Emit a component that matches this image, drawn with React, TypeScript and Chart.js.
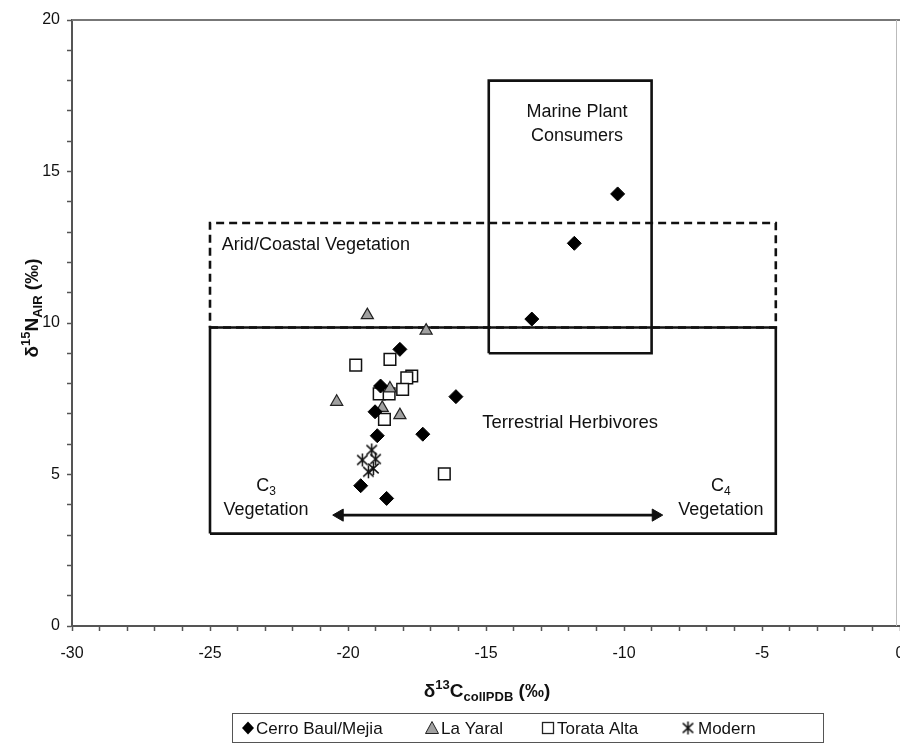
import React, { useEffect, useRef } from 'react';
import { Chart, registerables } from 'chart.js';

Chart.register(...registerables);

// ---- Data (δ13C, δ15N) ----
const cerroBaulX = [-18.12, -18.82, -16.09, -19.02, -18.94, -17.29, -19.54, -18.6, -10.23, -11.8, -13.34];
const cerroBaulY = [9.13, 7.92, 7.57, 7.07, 6.28, 6.33, 4.63, 4.21, 14.26, 12.63, 10.13];

const laYaralX = [-19.3, -17.17, -20.41, -18.48, -18.76, -18.12];
const laYaralY = [10.26, 9.75, 7.4, 7.84, 7.2, 6.96];

const torataX = [-19.72, -18.48, -17.69, -17.87, -18.02, -18.87, -18.51, -18.68, -16.51];
const torataY = [8.61, 8.8, 8.25, 8.19, 7.81, 7.66, 7.66, 6.82, 5.02];

const modernX = [-19.14, -19.48, -19.0, -19.08, -19.26];
const modernY = [5.81, 5.48, 5.51, 5.2, 5.09];

// ---- Reference boxes (data units) ----
const terrestrialBoxX = [-25, -4.5];
const terrestrialBoxY = [3.05, 9.85];
const aridBoxX = [-25, -4.5];
const aridBoxY = [9.85, 13.3];
const marineBoxX = [-14.9, -9];
const marineBoxY = [9, 18];
const arrowX = [-20.3, -8.85];
const arrowY = 3.66;

// ---- Axis ticks ----
const xMin = -30, xMax = 0, yMin = 0, yMax = 20;
const labelEvery = 5;

const legendLabels = ['Cerro Baul/Mejia', 'La Yaral', 'Torata Alta', 'Modern'];

const FONT = '"Liberation Sans", Arial, sans-serif';

const zip = (xs: number[], ys: number[]) => xs.map((x, i) => ({ x, y: ys[i] }));
const boxPts = (bx: number[], by: number[]) => [
  { x: bx[0], y: by[0] }, { x: bx[1], y: by[0] }, { x: bx[1], y: by[1] }, { x: bx[0], y: by[1] }, { x: bx[0], y: by[0] },
];

function makeAsterisk(size: number): HTMLCanvasElement {
  const c = document.createElement('canvas');
  c.width = size; c.height = size;
  const g = c.getContext('2d')!;
  g.strokeStyle = '#111';
  g.lineWidth = 1.5;
  const m = size / 2;
  const r = size / 2 - 1;
  g.beginPath();
  g.moveTo(m - r * 0.8, m - r * 0.75); g.lineTo(m + r * 0.8, m + r * 0.75);
  g.moveTo(m + r * 0.8, m - r * 0.75); g.lineTo(m - r * 0.8, m + r * 0.75);
  g.moveTo(m, m - r); g.lineTo(m, m + r);
  g.stroke();
  return c;
}

type Seg = { t: string; size: number; dy?: number };
function drawRich(ctx: CanvasRenderingContext2D, segs: Seg[], cx: number, cy: number, bold: boolean) {
  const w = segs.reduce((acc, s) => {
    ctx.font = `${bold ? 'bold ' : ''}${s.size}px ${FONT}`;
    return acc + ctx.measureText(s.t).width;
  }, 0);
  let x = cx - w / 2;
  ctx.textBaseline = 'alphabetic';
  ctx.textAlign = 'left';
  segs.forEach((s) => {
    ctx.font = `${bold ? 'bold ' : ''}${s.size}px ${FONT}`;
    ctx.fillText(s.t, x, cy + (s.dy || 0));
    x += ctx.measureText(s.t).width;
  });
}

export default function App() {
  const ref = useRef<HTMLCanvasElement | null>(null);

  useEffect(() => {
    if (!ref.current) return;
    const star = makeAsterisk(15);

    const annotations = {
      id: 'annotations',
      afterDraw(chart: any) {
        const ctx: CanvasRenderingContext2D = chart.ctx;
        const xs = chart.scales.x, ys = chart.scales.y;
        const px = (v: number) => xs.getPixelForValue(v);
        const py = (v: number) => ys.getPixelForValue(v);
        const ca = chart.chartArea;
        ctx.save();
        // plot frame (top & right)
        ctx.strokeStyle = '#777';
        ctx.lineWidth = 2;
        ctx.beginPath();
        ctx.moveTo(ca.left, ca.top); ctx.lineTo(ca.right, ca.top);
        ctx.stroke();
        ctx.strokeStyle = '#bbb';
        ctx.lineWidth = 1;
        ctx.beginPath();
        ctx.moveTo(ca.right - 3.5, ca.top); ctx.lineTo(ca.right - 3.5, ca.bottom);
        ctx.stroke();

        ctx.fillStyle = '#111';
        ctx.textBaseline = 'middle';
        ctx.font = `18px ${FONT}`;
        ctx.textAlign = 'center';
        ctx.fillText('Marine Plant', px(-11.7), py(16.95));
        ctx.fillText('Consumers', px(-11.7), py(16.18));
        ctx.textAlign = 'left';
        ctx.fillText('Arid/Coastal Vegetation', px(-24.57), py(12.57));
        ctx.font = `18.5px ${FONT}`;
        ctx.fillText('Terrestrial Herbivores', px(-15.14), py(6.7));
        ctx.font = `18px ${FONT}`;
        ctx.textAlign = 'center';
        ctx.fillText('Vegetation', px(-22.97), py(3.83));
        ctx.fillText('Vegetation', px(-6.49), py(3.83));
        drawRich(ctx, [{ t: 'C', size: 18 }, { t: '3', size: 12, dy: 4 }], px(-22.97), py(4.65) + 6, false);
        drawRich(ctx, [{ t: 'C', size: 18 }, { t: '4', size: 12, dy: 4 }], px(-6.49), py(4.65) + 6, false);

        // axis titles
        drawRich(ctx, [
          { t: 'δ', size: 19 }, { t: '13', size: 13, dy: -8 }, { t: 'C', size: 19 },
          { t: 'collPDB', size: 13, dy: 4 }, { t: ' (‰)', size: 19 },
        ], 487, 697, true);
        ctx.save();
        ctx.translate(32, 308);
        ctx.rotate(-Math.PI / 2);
        drawRich(ctx, [
          { t: 'δ', size: 19 }, { t: '15', size: 13, dy: -8 }, { t: 'N', size: 19 },
          { t: 'AIR', size: 13, dy: 4 }, { t: ' (‰)', size: 19 },
        ], 0, 6, true);
        ctx.restore();

        // legend
        ctx.strokeStyle = '#555';
        ctx.lineWidth = 1;
        ctx.strokeRect(232.5, 713.5, 591, 29);
        const ly = 728;
        const items = [
          { mx: 248, tx: 256 },
          { mx: 432, tx: 441 },
          { mx: 548, tx: 557 },
          { mx: 688, tx: 698 },
        ];
        ctx.fillStyle = '#000';
        ctx.beginPath();
        ctx.moveTo(items[0].mx, ly - 6.5); ctx.lineTo(items[0].mx + 6, ly); ctx.lineTo(items[0].mx, ly + 6.5); ctx.lineTo(items[0].mx - 6, ly);
        ctx.closePath(); ctx.fill();
        ctx.fillStyle = '#a0a0a0'; ctx.strokeStyle = '#222'; ctx.lineWidth = 1;
        ctx.beginPath();
        ctx.moveTo(items[1].mx, ly - 6.5); ctx.lineTo(items[1].mx + 6.5, ly + 5.5); ctx.lineTo(items[1].mx - 6.5, ly + 5.5);
        ctx.closePath(); ctx.fill(); ctx.stroke();
        ctx.fillStyle = '#fff'; ctx.lineWidth = 1.3;
        ctx.fillRect(items[2].mx - 5.5, ly - 5.5, 11, 11);
        ctx.strokeRect(items[2].mx - 5.5, ly - 5.5, 11, 11);
        ctx.drawImage(star, items[3].mx - 7.5, ly - 7.5);
        ctx.fillStyle = '#111';
        ctx.font = `17px ${FONT}`;
        ctx.textAlign = 'left';
        ctx.textBaseline = 'middle';
        legendLabels.forEach((l, i) => ctx.fillText(l, items[i].tx, ly + 1));
        ctx.restore();
      },
    };

    const boxStyle = { showLine: true, pointRadius: 0, borderColor: '#111', borderWidth: 2.6, fill: false, tension: 0 };

    const chart = new Chart(ref.current, {
      type: 'scatter',
      data: {
        datasets: [
          {
            label: legendLabels[0], data: zip(cerroBaulX, cerroBaulY), order: 1,
            pointStyle: 'rectRot', pointRadius: 7, backgroundColor: '#000', borderColor: '#000', borderWidth: 1,
          },
          {
            label: legendLabels[1], data: zip(laYaralX, laYaralY), order: 2,
            pointStyle: 'triangle', pointRadius: 7, backgroundColor: '#a0a0a0', borderColor: '#222', borderWidth: 1.2,
          },
          {
            label: legendLabels[2], data: zip(torataX, torataY), order: 3,
            pointStyle: 'rect', pointRadius: 8.2, backgroundColor: '#fff', borderColor: '#111', borderWidth: 1.5,
          },
          {
            label: legendLabels[3], data: zip(modernX, modernY), order: 0,
            pointStyle: star as any, pointRadius: 7,
          },
          { label: 'terrestrial', data: boxPts(terrestrialBoxX, terrestrialBoxY), order: 10, ...boxStyle } as any,
          { label: 'arid', data: boxPts(aridBoxX, aridBoxY), order: 11, ...boxStyle, borderDash: [8, 5] } as any,
          { label: 'marine', data: boxPts(marineBoxX, marineBoxY), order: 9, ...boxStyle } as any,
          {
            label: 'arrow', data: arrowX.map((x) => ({ x, y: arrowY })), order: 8,
            showLine: true, borderColor: '#111', borderWidth: 2.6,
            pointStyle: 'triangle', pointRadius: 7, pointRotation: [-90, 90],
            pointBackgroundColor: '#111', pointBorderColor: '#111', pointBorderWidth: 1,
          } as any,
        ],
      },
      options: {
        animation: false,
        responsive: false,
        layout: { autoPadding: false, padding: { top: 20, right: 0, bottom: 0, left: 0 } },
        plugins: { legend: { display: false }, tooltip: { enabled: false } },
        scales: {
          x: {
            type: 'linear', min: xMin, max: xMax,
            afterFit: (s: any) => { s.height = 118; s.paddingRight = 0; s.paddingLeft = 0; },
            ticks: {
              stepSize: 1, autoSkip: false, maxRotation: 0, padding: 13,
              color: '#111', font: { family: FONT, size: 16 },
              callback: (v: any) => (Number(v) % labelEvery === 0 ? String(v) : ''),
            },
            grid: { drawOnChartArea: false, drawTicks: true, tickLength: 5, tickColor: '#555', tickWidth: 1.5 },
            border: { display: true, color: '#555', width: 2 },
          },
          y: {
            type: 'linear', min: yMin, max: yMax,
            afterFit: (s: any) => { s.width = 72; s.paddingTop = 0; s.paddingBottom = 0; },
            ticks: {
              stepSize: 1, autoSkip: false, padding: 7,
              color: '#111', font: { family: FONT, size: 16 },
              callback: (v: any) => (Number(v) % labelEvery === 0 ? String(v) : ''),
            },
            grid: { drawOnChartArea: false, drawTicks: true, tickLength: 5, tickColor: '#555', tickWidth: 1.5 },
            border: { display: true, color: '#555', width: 2 },
          },
        },
      },
      plugins: [annotations],
    } as any);
    return () => chart.destroy();
  }, []);

  return (
    <div style={{ position: 'fixed', left: 0, top: 0, width: 900, height: 744, background: '#fff' }}>
      <canvas ref={ref} width={900} height={744} style={{ display: 'block' }} />
    </div>
  );
}
